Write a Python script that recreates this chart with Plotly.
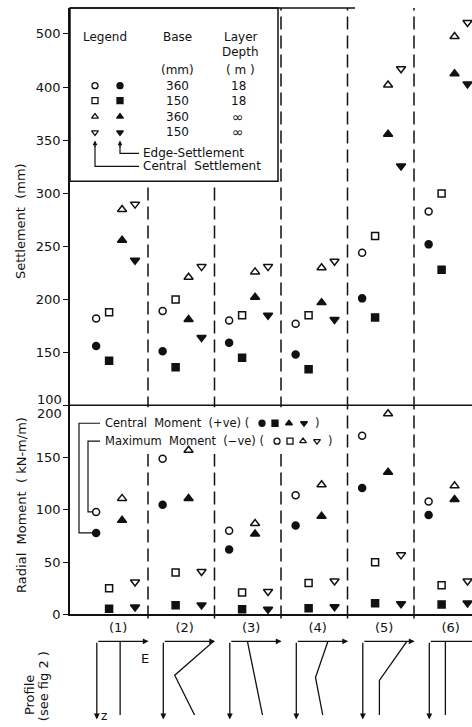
import plotly.graph_objects as go

# ---------------- data ----------------
columns = ["(1)", "(2)", "(3)", "(4)", "(5)", "(6)"]
base_mm = ["360", "150", "360", "150"]
layer_depth = ["18", "18", "\u221e", "\u221e"]

# Central settlement (mm) - open symbols
central_settle_360_18 = [182, 189, 180, 177, 244, 283]
central_settle_150_18 = [188, 200, 185, 185, 260, 300]
central_settle_360_inf = [285, 221, 226, 230, 405, 495]
central_settle_150_inf = [290, 231, 231, 236, 435, 521]
# Edge settlement (mm) - filled symbols
edge_settle_360_18 = [156, 151, 159, 148, 201, 252]
edge_settle_150_18 = [142, 136, 145, 134, 183, 228]
edge_settle_360_inf = [256, 181, 202, 197, 356, 426]
edge_settle_150_inf = [237, 164, 185, 181, 326, 407]

# Maximum moment (-ve), kN-m/m - open symbols
max_moment_360_18 = [98, 149, 80, 114, 171, 108]
max_moment_150_18 = [25, 40, 21, 30, 50, 28]
max_moment_360_inf = [111, 157, 87, 124, 192, 123]
max_moment_150_inf = [31, 41, 22, 32, 57, 32]
# Central moment (+ve), kN-m/m - filled symbols
cen_moment_360_18 = [78, 105, 62, 85, 121, 95]
cen_moment_150_18 = [5.5, 8.7, 5, 6, 10.6, 9.6]
cen_moment_360_inf = [90, 111, 77, 94, 136, 110]
cen_moment_150_inf = [7, 9, 5, 7.4, 10.3, 11]

# Modulus profiles E(z) (E as fraction of the E-axis length, z as fraction of depth)
profile_E = [[0.45, 0.45], [0.97, 0.22, 0.61], [0.34, 0.63],
             [0.61, 0.37, 0.51], [0.85, 0.32, 0.32], [0.31, 0.31]]
profile_z = [[0, 1], [0, 0.46, 1.01], [0, 1],
             [0, 0.49, 1], [0, 0.53, 1], [0, 1]]

central_settle = [central_settle_360_18, central_settle_150_18, central_settle_360_inf, central_settle_150_inf]
edge_settle = [edge_settle_360_18, edge_settle_150_18, edge_settle_360_inf, edge_settle_150_inf]
max_moment = [max_moment_360_18, max_moment_150_18, max_moment_360_inf, max_moment_150_inf]
cen_moment = [cen_moment_360_18, cen_moment_150_18, cen_moment_360_inf, cen_moment_150_inf]

# ---------------- layout geometry ----------------
W, H = 472, 727
ML, MR, MT, MB = 70, 0, 8, 5
PW = W - ML - MR
PH = H - MT - MB


def px_x(px):
    return (px - ML) / PW


def px_y(py):
    return (H - MB - py) / PH


PX_PER_UNIT = 66.5
X0 = -0.173
X1 = X0 + PW / PX_PER_UNIT

offsets = [0.22, 0.415, 0.61, 0.805]
open_sym = ["circle-open", "square-open", "triangle-up-open", "triangle-down-open"]
fill_sym = ["circle", "square", "triangle-up", "triangle-down"]
sizes = [7, 7, 8, 8]

MOM_RANGE = [0, 200]
LO_RANGE = [100, 400]
HI_RANGE = [400, 548]
dom_mom = [px_y(617), px_y(407)]
dom_lo = [px_y(407), px_y(88)]
dom_hi = [px_y(88), 1.0]
dom_prof = [px_y(718), px_y(644)]

FONT = "DejaVu Sans"
INK = "#111111"

fig = go.Figure()


def col_x(i):
    return [k + offsets[i] for k in range(len(columns))]


# settlement traces (split across broken axis)
for i in range(4):
    for vals, sym in ((central_settle[i], open_sym[i]), (edge_settle[i], fill_sym[i])):
        lo = [v if v <= 400 else None for v in vals]
        hi = [v if v > 400 else None for v in vals]
        for yv, ya in ((lo, "y2"), (hi, "y3")):
            fig.add_trace(go.Scatter(
                x=col_x(i), y=yv, xaxis="x", yaxis=ya, mode="markers",
                marker=dict(symbol=sym, size=sizes[i], color=INK, line=dict(color=INK, width=1.5)),
                showlegend=False, cliponaxis=False))

# moment traces
for i in range(4):
    for vals, sym in ((max_moment[i], open_sym[i]), (cen_moment[i], fill_sym[i])):
        fig.add_trace(go.Scatter(
            x=col_x(i), y=vals, xaxis="x", yaxis="y", mode="markers",
            marker=dict(symbol=sym, size=sizes[i], color=INK, line=dict(color=INK, width=1.5)),
            showlegend=False, cliponaxis=False))

# profiles
E_LEN = 0.78
ORIGIN = 0.23
annotations = []
for k in range(len(columns)):
    ox = k + ORIGIN
    fig.add_trace(go.Scatter(
        x=[ox + E_LEN * e for e in profile_E[k]], y=profile_z[k],
        xaxis="x", yaxis="y4", mode="lines", line=dict(color=INK, width=1.3),
        showlegend=False, cliponaxis=False, hoverinfo="skip"))
    # E axis arrow
    annotations.append(dict(x=ox + E_LEN, y=0, ax=ox, ay=0, xref="x", yref="y4",
                            axref="x", ayref="y4", text="", showarrow=True,
                            arrowhead=2, arrowsize=0.9, arrowwidth=1.3, arrowcolor=INK))
    # z axis arrow
    annotations.append(dict(x=ox, y=1.06, ax=ox, ay=0, xref="x", yref="y4",
                            axref="x", ayref="y4", text="", showarrow=True,
                            arrowhead=2, arrowsize=0.9, arrowwidth=1.3, arrowcolor=INK))

# legend-key markers (overlay in paper-like coordinates)
leg_rows_y = [86, 101, 117, 133]
fig.add_trace(go.Scatter(
    x=[px_x(95)] * 4 + [px_x(120)] * 4,
    y=[px_y(v) for v in leg_rows_y] * 2,
    xaxis="x5", yaxis="y5", mode="markers",
    marker=dict(symbol=open_sym + fill_sym, size=6, color=INK, line=dict(color=INK, width=1.3)),
    showlegend=False, cliponaxis=False, hoverinfo="skip"))
mom_key_x = [262, 275, 289, 304, 277, 290, 303, 317]
mom_key_y = [425] * 4 + [443] * 4
fig.add_trace(go.Scatter(
    x=[px_x(v) for v in mom_key_x], y=[px_y(v) for v in mom_key_y],
    xaxis="x5", yaxis="y5", mode="markers",
    marker=dict(symbol=fill_sym + open_sym, size=6, color=INK, line=dict(color=INK, width=1.3)),
    showlegend=False, cliponaxis=False, hoverinfo="skip"))


def txt(s, x, y, size=12, xanchor="center", angle=0):
    annotations.append(dict(text=s, x=px_x(x), y=px_y(y), xref="paper", yref="paper",
                            showarrow=False, xanchor=xanchor, yanchor="middle",
                            textangle=angle, font=dict(family=FONT, size=size, color=INK)))


# settlement legend table
txt("Legend", 105, 37)
txt("Base", 177, 37)
txt("Layer", 241, 37)
txt("Depth", 240, 52)
txt("(mm)", 177, 70)
txt("( m )", 240, 70)
for r, yy in enumerate(leg_rows_y):
    txt(base_mm[r], 177, yy)
    txt(layer_depth[r], 238, yy, size=14 if layer_depth[r] == "\u221e" else 12)
txt("Edge-Settlement", 141, 154, xanchor="left")
txt("Central  Settlement", 141, 167, xanchor="left")

# moment legend text
txt("Central  Moment  (+ve) (", 103, 425, size=11.5, xanchor="left")
txt(")", 317, 425, size=11.5)
txt("Maximum  Moment  (\u2212ve) (", 103, 443, size=11.5, xanchor="left")
txt(")", 330, 443, size=11.5)

# axis titles and misc labels
txt("Settlement  (mm)", 20, 222, size=13, angle=-90)
txt("Radial  Moment  ( kN-m/m)", 22, 507, size=13, angle=-90)
txt("Profile", 29, 698, size=13, angle=-90)
txt("(see fig 2 )", 43, 689, size=13, angle=-90)
txt("E", 145, 661, size=13)
txt("z", 104, 719, size=12)
txt("100", 64, 401, size=13, xanchor="right")
txt("200", 64, 415, size=13, xanchor="right")

# leader arrows in settlement legend
for xx in (95, 120):
    annotations.append(dict(x=px_x(xx), y=px_y(141), xref="paper", yref="paper",
                            ax=0, ay=8, text="", showarrow=True, arrowhead=2,
                            arrowsize=0.8, arrowwidth=1.2, arrowcolor=INK))


def mom_py(v):
    return 617 - (v - MOM_RANGE[0]) * 210 / (MOM_RANGE[1] - MOM_RANGE[0])


def path(pts):
    return "M " + " L ".join(f"{px_x(a):.5f},{px_y(b):.5f}" for a, b in pts)


marker_px = ML + (offsets[0] - X0) * PX_PER_UNIT
shapes = []
for s in range(1, len(columns)):
    shapes.append(dict(type="line", xref="x", yref="paper", x0=s, x1=s,
                       y0=px_y(621), y1=1.0, layer="below",
                       line=dict(color=INK, width=1.5, dash="13px,6px")))
# settlement legend box
shapes.append(dict(type="rect", xref="paper", yref="paper", x0=0, x1=px_x(278),
                   y0=px_y(182), y1=1.0, fillcolor="white", layer="below",
                   line=dict(color=INK, width=1.5)))
# clear area behind moment legend text
shapes.append(dict(type="rect", xref="paper", yref="paper", x0=px_x(72), x1=px_x(336),
                   y0=px_y(456), y1=px_y(409), fillcolor="white", layer="below",
                   line=dict(width=0)))
shapes.append(dict(type="line", xref="paper", yref="paper", x0=0, x1=1,
                   y0=px_y(407), y1=px_y(407), line=dict(color=INK, width=1.5)))
shapes.append(dict(type="line", xref="paper", yref="paper", x0=0, x1=px_x(355),
                   y0=1.0, y1=1.0, line=dict(color=INK, width=1.5)))
line_style = dict(color=INK, width=1.2)
shapes.append(dict(type="path", xref="paper", yref="paper", line=line_style,
                   path=path([(95, 146), (95, 167), (139, 167)])))
shapes.append(dict(type="path", xref="paper", yref="paper", line=line_style,
                   path=path([(120, 146), (120, 154), (139, 154)])))
shapes.append(dict(type="path", xref="paper", yref="paper", line=line_style,
                   path=path([(100, 425), (79, 425), (79, mom_py(cen_moment_360_18[0])),
                              (marker_px - 4, mom_py(cen_moment_360_18[0]))])))
shapes.append(dict(type="path", xref="paper", yref="paper", line=line_style,
                   path=path([(100, 443), (88, 443), (88, mom_py(max_moment_360_18[0])),
                              (marker_px - 4, mom_py(max_moment_360_18[0]))])))

yax_common = dict(showline=True, linecolor=INK, linewidth=1.5, ticks="outside",
                  ticklen=5, tickwidth=1.2, tickcolor=INK, showgrid=False, zeroline=False,
                  tickfont=dict(family=FONT, size=13, color=INK), anchor="x")

fig.update_layout(
    width=W, height=H,
    margin=dict(l=ML, r=MR, t=MT, b=MB),
    paper_bgcolor="white", plot_bgcolor="rgba(0,0,0,0)",
    showlegend=False,
    xaxis=dict(domain=[0, 1], range=[X0, X1], anchor="y", showline=True, linecolor=INK,
               linewidth=1.5, ticks="", showgrid=False, zeroline=False,
               tickvals=[k + 0.55 for k in range(len(columns))], ticktext=columns,
               tickfont=dict(family=FONT, size=13, color=INK)),
    yaxis=dict(domain=dom_mom, range=MOM_RANGE, tickvals=[0, 50, 100, 150, 200],
               ticktext=["0", "50", "100", "150", ""], **yax_common),
    yaxis2=dict(domain=dom_lo, range=LO_RANGE, tickvals=[100, 150, 200, 250, 300, 350, 400],
                ticktext=["", "150", "200", "250", "300", "350", "400"], **yax_common),
    yaxis3=dict(domain=dom_hi, range=HI_RANGE, tickvals=[500], ticktext=["500"], **yax_common),
    yaxis4=dict(domain=dom_prof, range=[1, 0], visible=False, anchor="x"),
    xaxis5=dict(domain=[0, 1], range=[0, 1], visible=False, anchor="y5"),
    yaxis5=dict(domain=[0, 1], range=[0, 1], visible=False, anchor="x5"),
    annotations=annotations,
    shapes=shapes,
)

fig.write_html(
    "out.html",
    config={"displayModeBar": False},
    post_script="document.body.style.margin='0';document.body.style.overflow='hidden';",
)
